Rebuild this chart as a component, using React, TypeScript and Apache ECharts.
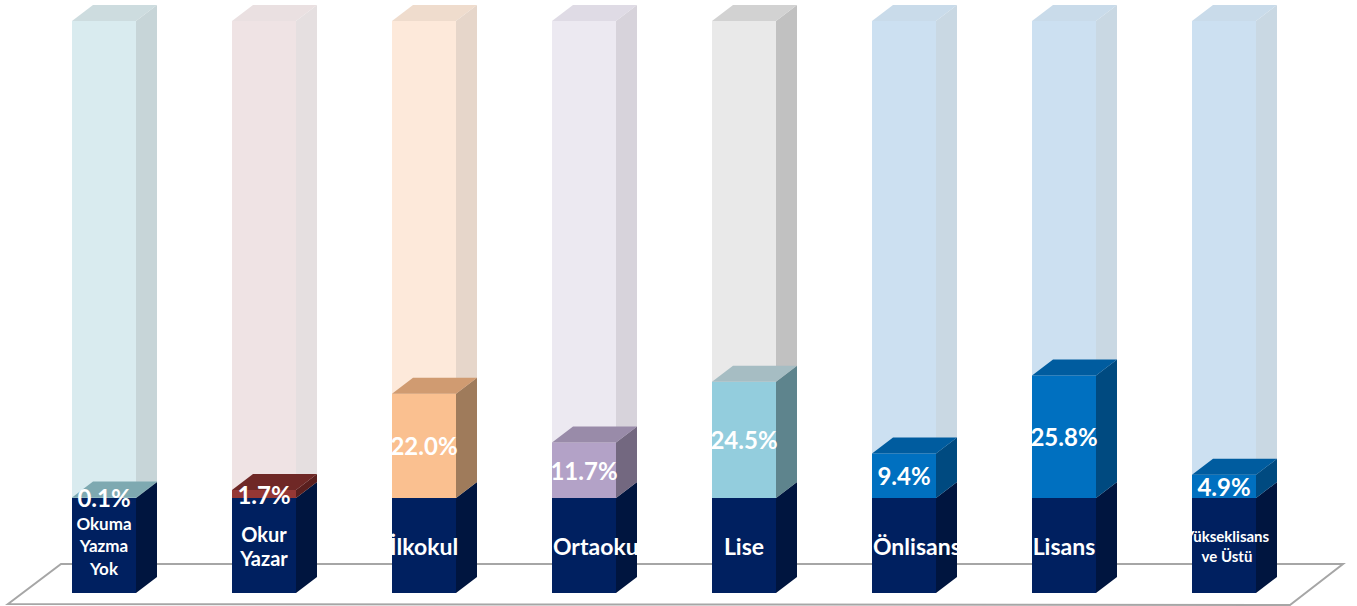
import React, { useEffect, useRef } from "react";
import * as echarts from "echarts";

const categories = [
  "Okuma\nYazma\nYok",
  "Okur\nYazar",
  "İlkokul",
  "Ortaokul",
  "Lise",
  "Önlisans",
  "Lisans",
  "Yükseklisans\nve Üstü",
];
const values = [0.1, 1.7, 22.0, 11.7, 24.5, 9.4, 25.8, 4.9];
const baseValue = 20;
const ceilingValue = 120.5;

const valueColors = ["#6fa8b4", "#953735", "#fac090", "#b3a2c7", "#93cddd", "#0070c0", "#0070c0", "#0070c0"];
const valueTopColors = ["#7ea9b1", "#6f2826", "#d09b71", "#998ba9", "#a6bdc3", "#005c9f", "#005c9f", "#005c9f"];
const valueSideColors = ["#5b8a93", "#5a1f1e", "#9f7b5b", "#736880", "#5e848d", "#004a80", "#004a80", "#004a80"];
const bgColors = ["#d9ebef", "#efe3e4", "#fde9da", "#ece9f1", "#e9e9e9", "#cce0f1", "#cce0f1", "#cce0f1"];
const bgSideColors = ["#c7d5d8", "#e5dfe0", "#e6d6ca", "#d7d3db", "#c1c1c1", "#c9d8e3", "#c9d8e3", "#c9d8e3"];
const bgTopColors = ["#cddcdf", "#eae0e1", "#efdccd", "#dfdbe5", "#d2d2d2", "#c9dbea", "#c9dbea", "#c9dbea"];
const navyFront = "#002060";
const navySide = "#00153f";

const DX = 21;
const DY = 16;
const FONT = "Lato, 'Open Sans', sans-serif";

let measureCtx: CanvasRenderingContext2D | null = null;
function textWidth(t: string, fs: number) {
  if (!measureCtx) measureCtx = document.createElement("canvas").getContext("2d");
  if (!measureCtx) return t.length * fs * 0.5;
  measureCtx.font = `bold ${fs}px ${FONT}`;
  return measureCtx.measureText(t).width;
}

function box(x0: number, x1: number, yB: number, yT: number, front: string, side: string, top: string | null) {
  const out: any[] = [
    { type: "polygon", shape: { points: [[x0, yB], [x1, yB], [x1, yT], [x0, yT]] }, style: { fill: front } },
    { type: "polygon", shape: { points: [[x1, yB], [x1 + DX, yB - DY], [x1 + DX, yT - DY], [x1, yT]] }, style: { fill: side } },
  ];
  if (top) {
    out.push({ type: "polygon", shape: { points: [[x0, yT], [x1, yT], [x1 + DX, yT - DY], [x0 + DX, yT - DY]] }, style: { fill: top } });
  }
  return out;
}

export default function App() {
  const ref = useRef<HTMLDivElement>(null);
  useEffect(() => {
    document.body.style.margin = "0";
    const chart = echarts.init(ref.current!, undefined, { renderer: "svg" });
    const renderItem = (params: any, api: any) => {
      const idx = api.value(0);
      const v = api.value(1);
      const p0 = api.coord([idx, 0]);
      const pb = api.coord([idx, baseValue]);
      const pv = api.coord([idx, baseValue + v]);
      const pt = api.coord([idx, ceilingValue]);
      const bw = api.size([1, 0])[0] * 0.4;
      const x0 = p0[0] - bw / 2;
      const x1 = x0 + bw;
      const cx = p0[0];
      const children: any[] = [];
      // background column
      children.push(...box(x0, x1, pb[1], pt[1], bgColors[idx], bgSideColors[idx], bgTopColors[idx]));
      // navy base
      children.push(...box(x0, x1, p0[1], pb[1], navyFront, navySide, null));
      const cat = categories[idx];
      const lines = cat.split("\n");
      const maxLen = Math.max(...lines.map((l) => l.length));
      const fs = lines.length >= 3 ? 17 : maxLen > 10 ? 15 : lines.length === 2 ? 20 : 23;
      const lh = lines.length >= 3 ? 22.5 : maxLen > 10 ? 20 : 24;
      const w = Math.max(...lines.map((l) => textWidth(l, fs)));
      let tx = cx + (maxLen > 10 ? 3 : 0);
      if (lines.length === 1 && cx - w / 2 < x0 - 4) tx = x0 + 1 + w / 2;
      children.push({
        type: "text",
        clipPath: { type: "rect", shape: { x: x0, y: pb[1] - DY, width: bw + DX, height: p0[1] - pb[1] + DY } },
        style: {
          text: cat,
          x: tx,
          y: (p0[1] + pb[1]) / 2,
          align: "center",
          verticalAlign: "middle",
          fill: "#ffffff",
          fontFamily: FONT,
          fontWeight: "bold",
          fontSize: fs,
          lineHeight: lh,
        },
      });
      // value segment
      children.push(...box(x0, x1, pb[1], pv[1], valueColors[idx], valueSideColors[idx], valueTopColors[idx]));
      children.push({
        type: "text",
        style: {
          text: v.toFixed(1) + "%",
          x: cx,
          y: (pb[1] + pv[1]) / 2,
          align: "center",
          verticalAlign: "middle",
          fill: "#ffffff",
          fontFamily: FONT,
          fontWeight: "bold",
          fontSize: 24,
        },
      });
      return { type: "group", children };
    };
    chart.setOption({
      animation: false,
      grid: { left: 24, right: 53, top: 21, bottom: 13 },
      xAxis: { type: "category", data: categories, show: false },
      yAxis: { type: "value", min: 0, max: ceilingValue, show: false },
      graphic: [
        {
          type: "polygon",
          z: 0,
          shape: { points: [[8, 604], [61, 564], [1343, 564], [1290, 605]] },
          style: { fill: "none", stroke: "#a6a6a6", lineWidth: 2 },
        },
      ],
      series: [
        {
          type: "custom",
          z: 10,
          renderItem,
          data: values.map((v, i) => [i, v]),
        },
      ],
    });
    return () => chart.dispose();
  }, []);
  return <div ref={ref} style={{ width: 1357, height: 606 }} />;
}
